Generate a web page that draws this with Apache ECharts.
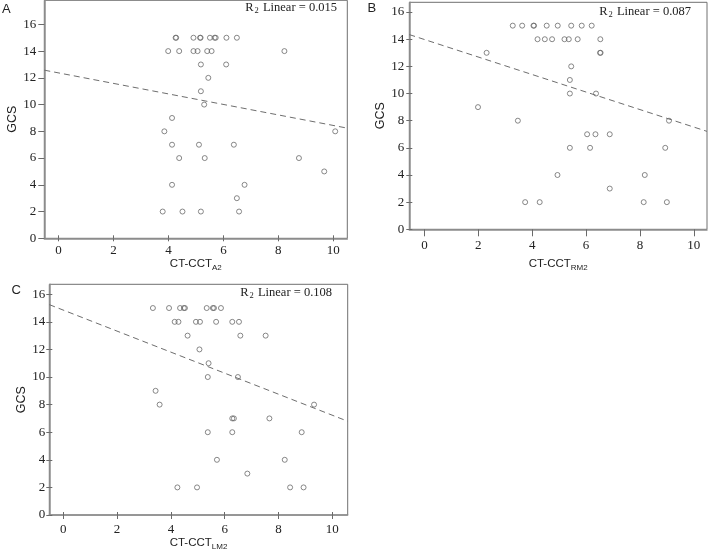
<!DOCTYPE html>
<html><head><meta charset="utf-8">
<script src="https://cdn.jsdelivr.net/npm/echarts@6/dist/echarts.min.js"></script>
<style>html,body{margin:0;padding:0;background:#fff}#c{width:709px;height:553px}</style>
</head><body><div id="c"></div>
<script>
// ---- data ----
const xTicks = [0, 2, 4, 6, 8, 10];
const yTicks = [0, 2, 4, 6, 8, 10, 12, 14, 16];

// Panel A: CT-CCT A2 vs GCS
const aX = [4.26,4.28,4.91,5.15,5.17,5.51,5.68,5.72,6.11,6.49,
            3.99,4.39,4.91,5.06,5.41,5.57,8.22,
            5.18,6.10, 5.45, 5.18, 5.30, 4.13,
            3.85,10.07, 4.13,5.11,6.38, 4.39,5.32,8.75, 9.67,
            4.13,6.77, 6.49, 3.79,4.51,5.18,6.57];
const aY = [15,15,15,15,15,15,15,15,15,15,
            14,14,14,14,14,14,14,
            13,13, 12, 11, 10, 9,
            8,8, 7,7,7, 6,6,6, 5,
            4,4, 3, 2,2,2,2];
// Panel B: CT-CCT RM2 vs GCS
const bX = [3.28,3.63,4.05,4.07,4.54,4.95,5.45,5.84,6.21,
            4.20,4.47,4.74,5.20,5.36,5.69,6.53,
            2.31,6.52,6.54, 5.45, 5.40, 5.40,6.37, 1.99,
            3.47,9.08, 6.04,6.35,6.88, 5.40,6.15,8.94,
            4.94,8.18, 6.88, 3.74,4.28,8.14,9.00];
const bY = [15,15,15,15,15,15,15,15,15,
            14,14,14,14,14,14,14,
            13,13,13, 12, 11, 10,10, 9,
            8,8, 7,7,7, 6,6,6,
            4,4, 3, 2,2,2,2];
// Panel C: CT-CCT LM2 vs GCS
const cX = [3.33,3.93,4.34,4.48,4.52,5.33,5.56,5.60,5.86,
            4.14,4.28,4.93,5.08,5.68,6.28,6.53,
            4.62,6.58,7.52, 5.06, 5.40, 5.37,6.49, 3.43,
            3.58,9.32, 6.28,6.34,7.66, 5.37,6.28,8.86,
            5.71,8.23, 6.84, 4.24,4.97,8.43,8.93];
const cY = [15,15,15,15,15,15,15,15,15,
            14,14,14,14,14,14,14,
            13,13,13, 12, 11, 10,10, 9,
            8,8, 7,7,7, 6,6,6,
            4,4, 3, 2,2,2,2];

// Linear fit lines (intercept, slope) and R²
const fitIntercepts = [12.37, 13.98, 14.85];
const fitSlopes = [-0.393, -0.645, -0.762];
const r2Values = ['0.015', '0.087', '0.108'];
const panelLetters = ['A', 'B', 'C'];
const xSubscripts = ['A2', 'RM2', 'LM2'];
const yName = 'GCS';

// ---- layout (styles / positions) ----
const layouts = [
  {left:44.3, top:0.3, width:303, height:238, xmin:-0.52, xmax:10.51, ymax:17.8,
   xTickLen:3, xCross:true, yTickLen:6, yCross:false, xLabMargin:6, yLabMargin:8,
   xNameGap:16, yNameGap:20, r2Right:372, r2Top:0, letter:[2,2.5]},
  {left:409.3, top:2.3, width:297.7, height:227, xmin:-0.56, xmax:10.49, ymax:16.72,
   xTickLen:7, xCross:false, yTickLen:3, yCross:true, xLabMargin:10, yLabMargin:5,
   xNameGap:27, yNameGap:17, r2Right:18, r2Top:4, letter:[367.5,1.5]},
  {left:49.3, top:284.3, width:298.4, height:230.7, xmin:-0.52, xmax:10.57, ymax:16.72,
   xTickLen:4, xCross:true, yTickLen:3, yCross:true, xLabMargin:8, yLabMargin:4,
   xNameGap:17, yNameGap:21, r2Right:377, r2Top:285, letter:[11.5,284]}
];
const xs = [aX, bX, cX], ys = [aY, bY, cY];

const axisColor = '#8c8c8c';
const tickColor = '#6a6a6a';
const labelStyle = {fontFamily:'Liberation Serif', fontSize:13, color:'#222'};

const grid = [], xAxis = [], yAxis = [], series = [], title = [], graphic = [];
layouts.forEach((L, i) => {
  grid.push({left:L.left, top:L.top, width:L.width, height:L.height, show:true,
    borderColor:'#707070', borderWidth:1, backgroundColor:'transparent'});
  xAxis.push({gridIndex:i, type:'value', min:L.xmin, max:L.xmax, position:'bottom',
    splitLine:{show:false},
    axisLine:{show:true, onZero:false, lineStyle:{color:axisColor, width:1.5}},
    axisTick:{show:true, inside:false, length:L.xTickLen, customValues:xTicks, lineStyle:{color:tickColor}},
    axisLabel:{customValues:xTicks, margin:L.xLabMargin, ...labelStyle},
    name:'{n|CT-CCT}{s|' + xSubscripts[i] + '}', nameLocation:'middle', nameGap:L.xNameGap,
    nameTextStyle:{rich:{
      n:{fontFamily:'Liberation Sans', fontSize:11.5, color:'#222'},
      s:{fontFamily:'Liberation Sans', fontSize:8, color:'#222', padding:[7,0,0,0]}
    }}
  });
  yAxis.push({gridIndex:i, type:'value', min:0, max:L.ymax, position:'left',
    splitLine:{show:false},
    axisLine:{show:true, onZero:false, lineStyle:{color:axisColor, width:1.5}},
    axisTick:{show:true, inside:false, length:L.yTickLen, customValues:yTicks, lineStyle:{color:tickColor}},
    axisLabel:{customValues:yTicks, margin:L.yLabMargin, ...labelStyle},
    name:yName, nameLocation:'middle', nameGap:L.yNameGap,
    nameTextStyle:{fontFamily:'Liberation Sans', fontSize:12.5, color:'#222'}
  });
});
// inner tick axes for ticks that cross the axis line
layouts.forEach((L, i) => {
  xAxis.push({gridIndex:i, type:'value', min:L.xmin, max:L.xmax, position:'bottom',
    splitLine:{show:false}, axisLine:{show:false, onZero:false}, axisLabel:{show:false},
    axisTick:{show:L.xCross, inside:true, length:3, customValues:xTicks, lineStyle:{color:tickColor}}});
  yAxis.push({gridIndex:i, type:'value', min:0, max:L.ymax, position:'left',
    splitLine:{show:false}, axisLine:{show:false, onZero:false}, axisLabel:{show:false},
    axisTick:{show:L.yCross, inside:true, length:3, customValues:yTicks, lineStyle:{color:tickColor}}});
});
layouts.forEach((L, i) => {
  const pts = xs[i].map((x, k) => [x, ys[i][k]]);
  series.push({type:'scatter', xAxisIndex:i, yAxisIndex:i, data:pts, symbol:'circle', symbolSize:5,
    itemStyle:{color:'rgba(255,255,255,0)', borderColor:'#6a6a6a', borderWidth:1}, silent:true});
  const a = fitIntercepts[i], b = fitSlopes[i];
  series.push({type:'line', xAxisIndex:i, yAxisIndex:i, symbol:'none', silent:true,
    data:[[L.xmin, a + b * L.xmin], [L.xmax, a + b * L.xmax]],
    lineStyle:{color:'#6e6e6e', width:1, type:[6,4]}});
  title.push({text:'{r|R}{s|2}{r| Linear = ' + r2Values[i] + '}', right:L.r2Right, top:L.r2Top, padding:0,
    textStyle:{fontWeight:'normal', rich:{
      r:{fontFamily:'Liberation Serif', fontWeight:'normal', fontSize:12.5, color:'#222'},
      s:{fontFamily:'Liberation Serif', fontWeight:'normal', fontSize:8.5, color:'#222', padding:[6,1,0,1]}
    }}});
  graphic.push({type:'text', left:L.letter[0], top:L.letter[1],
    style:{text:panelLetters[i], font:'13px "Liberation Sans"', fill:'#222'}});
});

const chart = echarts.init(document.getElementById('c'), null, {renderer:'canvas'});
chart.setOption({animation:false, backgroundColor:'#fff', grid, xAxis, yAxis, series, title, graphic});
</script></body></html>
